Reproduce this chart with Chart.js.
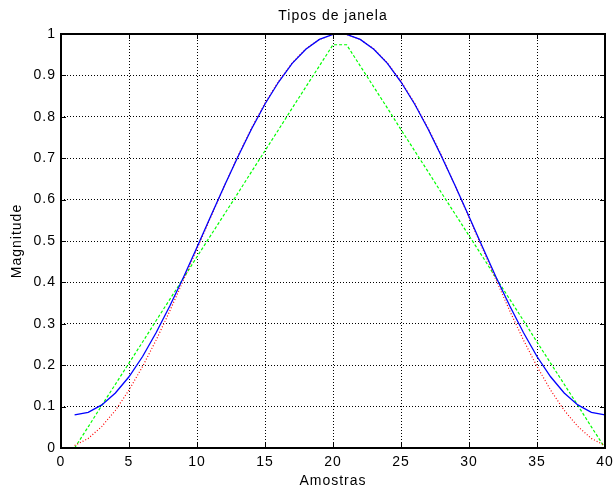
<!DOCTYPE html>
<html>
<head>
<meta charset="utf-8">
<script src="https://cdn.jsdelivr.net/npm/chart.js@4/dist/chart.umd.min.js"></script>
<style>
  html, body { margin: 0; padding: 0; background: #fff; }
  #wrap { width: 613px; height: 490px; }
</style>
</head>
<body>
<div id="wrap"><canvas id="c" width="613" height="490"></canvas></div>
<script>
// ---- data ----
const samples = [1,2,3,4,5,6,7,8,9,10,11,12,13,14,15,16,17,18,19,20,
                 21,22,23,24,25,26,27,28,29,30,31,32,33,34,35,36,37,38,39,40];
const hamming = [0.080,0.086,0.104,0.133,0.172,0.221,0.279,0.343,0.412,0.485,
                 0.559,0.632,0.703,0.770,0.831,0.884,0.929,0.963,0.987,0.999,
                 0.999,0.987,0.963,0.929,0.884,0.831,0.770,0.703,0.632,0.559,
                 0.485,0.412,0.343,0.279,0.221,0.172,0.133,0.104,0.086,0.080];
const hanning = [0.006,0.023,0.052,0.091,0.140,0.197,0.261,0.331,0.405,0.481,
                 0.557,0.632,0.705,0.772,0.833,0.886,0.930,0.964,0.987,0.999,
                 0.999,0.987,0.964,0.930,0.886,0.833,0.772,0.705,0.632,0.557,
                 0.481,0.405,0.331,0.261,0.197,0.140,0.091,0.052,0.023,0.006];
const bartlett = [0.000,0.051,0.103,0.154,0.205,0.256,0.308,0.359,0.410,0.462,
                  0.513,0.564,0.615,0.667,0.718,0.769,0.821,0.872,0.923,0.974,
                  0.974,0.923,0.872,0.821,0.769,0.718,0.667,0.615,0.564,0.513,
                  0.462,0.410,0.359,0.308,0.256,0.205,0.154,0.103,0.051,0.000];
const xTicks = [0,5,10,15,20,25,30,35,40];
const yTicks = [0,0.1,0.2,0.3,0.4,0.5,0.6,0.7,0.8,0.9,1];
const xTickLabels = ['0','5','10','15','20','25','30','35','40'];
const yTickLabels = ['0','0.1','0.2','0.3','0.4','0.5','0.6','0.7','0.8','0.9','1'];
const titleText = 'Tipos de janela';

const FONT = { family: "'Liberation Sans', Arial, Helvetica, sans-serif", size: 14 };
const FONT_CSS = "14px 'Liberation Sans', Arial, Helvetica, sans-serif";

const spacing = {
  id: 'spacing',
  beforeUpdate(chart) { chart.ctx.letterSpacing = '1px'; },
  beforeDraw(chart) { chart.ctx.letterSpacing = '1px'; }
};

const frame = {
  id: 'frame',
  afterDraw(chart) {
    const ctx = chart.ctx, a = chart.chartArea;
    const xs = chart.scales.x, ys = chart.scales.y;
    ctx.save();
    ctx.strokeStyle = '#000';
    ctx.lineWidth = 1;
    ctx.setLineDash([]);
    ctx.beginPath();
    const L = 5;
    xTicks.forEach(v => {
      const px = Math.round(xs.getPixelForValue(v)) + 0.5;
      ctx.moveTo(px, a.bottom); ctx.lineTo(px, a.bottom - L);
      ctx.moveTo(px, a.top); ctx.lineTo(px, a.top + L);
    });
    yTicks.forEach(v => {
      const py = Math.round(ys.getPixelForValue(v)) + 0.5;
      ctx.moveTo(a.left, py); ctx.lineTo(a.left + L, py);
      ctx.moveTo(a.right, py); ctx.lineTo(a.right - L, py);
    });
    ctx.stroke();
    ctx.lineWidth = 2;
    ctx.strokeRect(Math.round(a.left), Math.round(a.top),
                   Math.round(a.right) - Math.round(a.left),
                   Math.round(a.bottom) - Math.round(a.top));
    // title centred over the plot area
    ctx.letterSpacing = '1px';
    ctx.font = FONT_CSS;
    ctx.fillStyle = '#000';
    ctx.textAlign = 'center';
    ctx.textBaseline = 'middle';
    ctx.fillText(titleText, (a.left + a.right) / 2, 16);
    ctx.restore();
  }
};

const pts = arr => samples.map((s, i) => ({ x: s, y: arr[i] }));

new Chart(document.getElementById('c'), {
  type: 'line',
  data: {
    datasets: [
      { label: 'Hamming', data: pts(hamming), borderColor: '#0000ff', borderWidth: 1.3,
        pointRadius: 0, tension: 0, fill: false },
      { label: 'Hanning', data: pts(hanning), borderColor: '#ff0000', borderWidth: 1.2,
        borderDash: [1, 2], pointRadius: 0, tension: 0, fill: false },
      { label: 'Bartlett', data: pts(bartlett), borderColor: '#00ff00', borderWidth: 1.2,
        borderDash: [3, 2], pointRadius: 0, tension: 0, fill: false }
    ]
  },
  options: {
    responsive: false,
    animation: false,
    events: [],
    layout: { padding: { left: 0, right: 8, top: 34, bottom: 0 } },
    plugins: {
      legend: { display: false },
      tooltip: { enabled: false },
      title: { display: false }
    },
    scales: {
      x: {
        type: 'linear', min: 0, max: 40,
        afterBuildTicks: s => { s.ticks = xTicks.map(v => ({ value: v })); },
        afterFit: s => { s.height = 42; s.paddingLeft = 0; s.paddingRight = 0; },
        ticks: { color: '#000', font: FONT, padding: 6, maxRotation: 0, autoSkip: false,
                 callback: (v) => xTickLabels[xTicks.indexOf(v)] },
        grid: { color: '#000', lineWidth: 1, drawTicks: false },
        border: { display: false, dash: [1, 2] },
        title: { display: true, text: 'Amostras', color: '#000', font: FONT,
                 padding: { top: 0, bottom: 0 } }
      },
      y: {
        type: 'linear', min: 0, max: 1,
        afterBuildTicks: s => { s.ticks = yTicks.map(v => ({ value: v })); },
        afterFit: s => { s.width = 61; s.paddingTop = 0; s.paddingBottom = 0; },
        ticks: { color: '#000', font: FONT, padding: 5, autoSkip: false,
                 callback: (v) => yTickLabels[yTicks.findIndex(t => Math.abs(t - v) < 1e-9)] },
        grid: { color: '#000', lineWidth: 1, drawTicks: false },
        border: { display: false, dash: [1, 2] },
        title: { display: true, text: 'Magnitude', color: '#000', font: FONT,
                 padding: { top: 9, bottom: 0 } }
      }
    }
  },
  plugins: [spacing, frame]
});
</script>
</body>
</html>
